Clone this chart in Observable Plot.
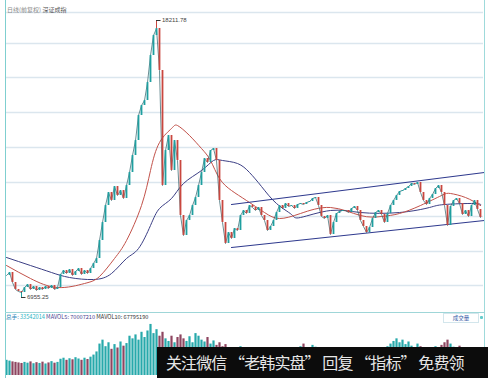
<!DOCTYPE html>
<html><head><meta charset="utf-8">
<script src="https://cdn.jsdelivr.net/npm/d3@7"></script>
<script src="https://cdn.jsdelivr.net/npm/@observablehq/plot@0.6"></script>
<style>
body{margin:0;background:#fff;}
#wrap{position:relative;width:488px;height:378px;overflow:hidden;background:#fff;font-family:"Liberation Sans",Arial,sans-serif;}
.abs{position:absolute;}
.abs svg{display:block;}
</style></head><body><div id="wrap"></div>
<script>
// ---- data ----
const closes = [
 7849,7971,7565,7280,7199,7158,7361,7483,7280,7402,7239,7361,7280,7402,7321,7443,7280,7361,
 7890,8052,7930,8093,7849,8012,8133,7890,8052,7930,8133,8337,8540,9271,
 10003,10694,11222,10897,11466,11100,11303,10978,11507,12035,12726,13335,14351,14758,14961,15693,16790,17603,17887,
 16180,11507,12929,13539,12116,13335,12523,10287,9475,10084,10287,10694,11019,11507,12035,12604,12441,12929,13010,12523,
 10897,10003,9149,9597,9353,9759,9678,10287,10491,10369,10694,10613,10491,10613,10287,10084,9678,9840,10084,10409,
 10694,10572,10775,10653,10694,10572,10734,10775,10734,10816,10856,10978,11019,10694,10247,10165,10287,9515,10003,10369,
 10450,10491,10491,10409,10572,10653,10491,10084,9840,9597,9800,10165,10409,10491,10328,10003,10369,10694,10897,11100,
 11263,11303,11385,11466,11588,11547,11629,11222,10897,10734,10978,11141,11385,11507,11222,10694,9881,10653,10897,10978,
 10775,10328,10491,10247,10694,10897,10531,10206
];
const volumes = [
 58,55,52,50,48,46,
 50,47,52,45,49,46,51,44,48,53,47,50,
 62,66,58,64,60,68,63,58,66,61,70,
 78,90,120,
 135,110,125,100,118,105,128,112,122,
 150,140,155,135,165,145,
 170,195,160,175,150,
 165,140,130,150,125,145,
 155,140,130,148,125,160,150,
 135,128,145,120,132,115,
 125,110,118,100,95,105,90,110,98,92,
 85,100,90,95,80,88,92,85,98,105,95,88,82,90,86,80,92,110,120,105,
 100,115,108,95,88,92,85,98,90,95,
 88,100,92,86,95,105,90,84,96,88,92,100,94,88,90,
 96,110,120,130,140,125,135,118,128,112,105,120,110,98,100,
 95,105,110,98,115,125,135,120,108,100,112,96,90,104,95,88,100,92
];
const maRedT = [0,8,17,26,31,36,40,45,48,51,55,57,61,65,68,71,75,80,86,91,98,108,118,125,131,138,145,148,153,158];
const maRedV = [8255,7727,7361,7524,7808,8540,9271,10694,12116,13254,13823,13945,13539,13010,12523,11791,11303,10897,10409,10165,10369,10613,10287,10247,10369,10694,11100,11182,11019,10694];
const maBlueT = [0,8,15,21,29,35,40,44,48,51,55,59,65,69,72,77,81,85,90,95,98,108,118,131,141,146,156,158];
const maBlueV = [8581,8255,7971,7768,7686,7930,8540,8946,9881,10572,10978,11588,12116,12523,12523,12401,12035,11466,10775,10328,10206,10491,10409,10409,10613,10734,10775,10694];
const channelT = [75, 159.3];
const channelLower = [8987, 10084];
const channelUpper = [10734, 12035];
const gridValues = [18537,17278,15896,14473,13051,11629,10247,8824,7443];
const peakT = 50, peakValue = 18211.78, peakLabel = "18211.78";
const lowT = 5, lowValue = 6955.25, lowLabel = "6955.25";
const headerGray = "日线(前复权)", headerName = "深证成指";
const volHeader = [["总手:","#2c86b8"],[" 33542014","#27b4c4"],[" MAVOL5: 70007210","#4a3f8f"],[" MAVOL10: 67795190","#333"]];
const volTag = "成交量";
const bannerText = "关注微信 “老韩实盘” 回复 “指标” 免费领";

// ---- build ----
const wrap = document.getElementById("wrap");
const UP = "#1f9fa0", DOWN = "#c9473f";
const candles = closes.map((c,i)=>({t:i, open: i ? closes[i-1] : c, close:c}));
candles.forEach(d=>{d.color = d.close >= d.open ? UP : DOWN;});
const vol = volumes.map((v,i)=>({t:i, v, color: candles[i].color === UP ? "#27a9ab" : "#8e4560"}));
const red = maRedT.map((t,i)=>({t, v:maRedV[i]}));
const blue = maBlueT.map((t,i)=>({t, v:maBlueV[i]}));
const lower = channelT.map((t,i)=>({t, v:channelLower[i]}));
const upper = channelT.map((t,i)=>({t, v:channelUpper[i]}));

function place(node, left, top){
  const d = document.createElement("div");
  d.className = "abs"; d.style.left = left+"px"; d.style.top = top+"px";
  d.appendChild(node); wrap.appendChild(d); return d;
}

const price = Plot.plot({
  width:488, height:313, marginLeft:6, marginRight:5, marginTop:0, marginBottom:0,
  x:{domain:[0,159], axis:null},
  y:{domain:[6305,19025], axis:null},
  marks:[
    Plot.ruleY(gridValues,{stroke:"#dbe6ee", strokeWidth:1.3}),
    Plot.line(blue,{x:"t", y:"v", stroke:"#3c3f85", strokeWidth:1, curve:"natural"}),
    Plot.line(red,{x:"t", y:"v", stroke:"#c2524a", strokeWidth:1, curve:"natural"}),
    Plot.line(lower,{x:"t", y:"v", stroke:"#2f3a8e", strokeWidth:1.2}),
    Plot.line(upper,{x:"t", y:"v", stroke:"#2f3a8e", strokeWidth:1.2}),
    Plot.ruleX([{t:peakT, a:closes[peakT], b:peakValue}],{x:"t", y1:"a", y2:"b", stroke:DOWN, strokeWidth:1}),
    Plot.ruleX([{t:lowT, a:closes[lowT], b:lowValue}],{x:"t", y1:"a", y2:"b", stroke:UP, strokeWidth:1}),
    Plot.line(candles,{x:"t", y:"close", stroke:"#2b5d66", strokeWidth:0.7}),
    Plot.ruleX(candles,{x:"t", y1:"open", y2:"close", stroke:"color", strokeWidth:1.8}),
    Plot.ruleY([{t1:peakT, t2:peakT+1.5, v:peakValue}],{x1:"t1", x2:"t2", y:"v", stroke:"#333", strokeWidth:1}),
    Plot.ruleY([{t1:lowT, t2:lowT+1.5, v:lowValue}],{x1:"t1", x2:"t2", y:"v", stroke:"#333", strokeWidth:1}),
    Plot.text([{t:peakT+1.5, v:peakValue, s:peakLabel}],{x:"t", y:"v", text:"s", textAnchor:"start", dx:1, fontSize:6, fill:"#444", fontFamily:"Liberation Sans"}),
    Plot.text([{t:lowT+1.5, v:lowValue, s:lowLabel}],{x:"t", y:"v", text:"s", textAnchor:"start", dx:1, fontSize:6, fill:"#444", fontFamily:"Liberation Sans"})
  ]
});
place(price, 0, 0);

const volume = Plot.plot({
  width:488, height:55, marginLeft:6, marginRight:5, marginTop:0, marginBottom:0,
  x:{domain:[0,159], axis:null},
  y:{domain:[0,210], axis:null},
  marks:[
    Plot.ruleX(vol,{x:"t", y1:0, y2:"v", stroke:"color", strokeWidth:2.2})
  ]
});
place(volume, 0, 320);

// frame lines
function line(l,t,w,h,c){const d=document.createElement("div");d.className="abs";Object.assign(d.style,{left:l+"px",top:t+"px",width:w+"px",height:h+"px",background:c});wrap.appendChild(d);}
line(5,0,1,378,"#7fcfd0");
line(484,0,1,378,"#9fdadb");
line(5,312,480,1,"#9fd6d8");

// header
const hdr = document.createElement("div");
hdr.className="abs"; Object.assign(hdr.style,{left:"7px",top:"6px",fontSize:"6px",lineHeight:"7px",fontFamily:"'Noto Sans CJK SC',sans-serif",whiteSpace:"nowrap"});
hdr.innerHTML = `<span style="color:#8a8a8a">${headerGray}</span> <span style="color:#555">${headerName}</span>`;
wrap.appendChild(hdr);

// volume header
const vh = document.createElement("div");
vh.className="abs"; Object.assign(vh.style,{left:"6px",top:"314px",fontSize:"5.6px",lineHeight:"7px",fontFamily:"'Noto Sans CJK SC','Liberation Sans',sans-serif",whiteSpace:"nowrap"});
vh.innerHTML = volHeader.map(([s,c])=>`<span style="color:${c}">${s}</span>`).join("");
wrap.appendChild(vh);

const tag = document.createElement("div");
tag.className="abs"; Object.assign(tag.style,{left:"443px",top:"313px",width:"34px",height:"8px",border:"1px solid #d3e6ec",fontSize:"5.5px",lineHeight:"8px",textAlign:"center",color:"#3a5da8",fontFamily:"'Noto Sans CJK SC',sans-serif",background:"#fff"});
tag.textContent = volTag;
wrap.appendChild(tag);
const dot = document.createElement("div");
dot.className="abs"; Object.assign(dot.style,{left:"480px",top:"316px",width:"3px",height:"3px",background:"#6cc",borderRadius:"1px"});
wrap.appendChild(dot);

// banner
const banner = document.createElement("div");
banner.className="abs"; Object.assign(banner.style,{left:"157px",top:"347px",width:"331px",height:"31px",background:"#0c0c0c"});
wrap.appendChild(banner);
const btxt = document.createElement("div");
btxt.className="abs"; Object.assign(btxt.style,{left:"166px",top:"351px",fontSize:"16px",lineHeight:"22px",letterSpacing:"-0.9px",color:"#e6e6e6",fontFamily:"'Noto Sans CJK SC',sans-serif",whiteSpace:"nowrap"});
btxt.textContent = bannerText;
wrap.appendChild(btxt);
</script></body></html>
